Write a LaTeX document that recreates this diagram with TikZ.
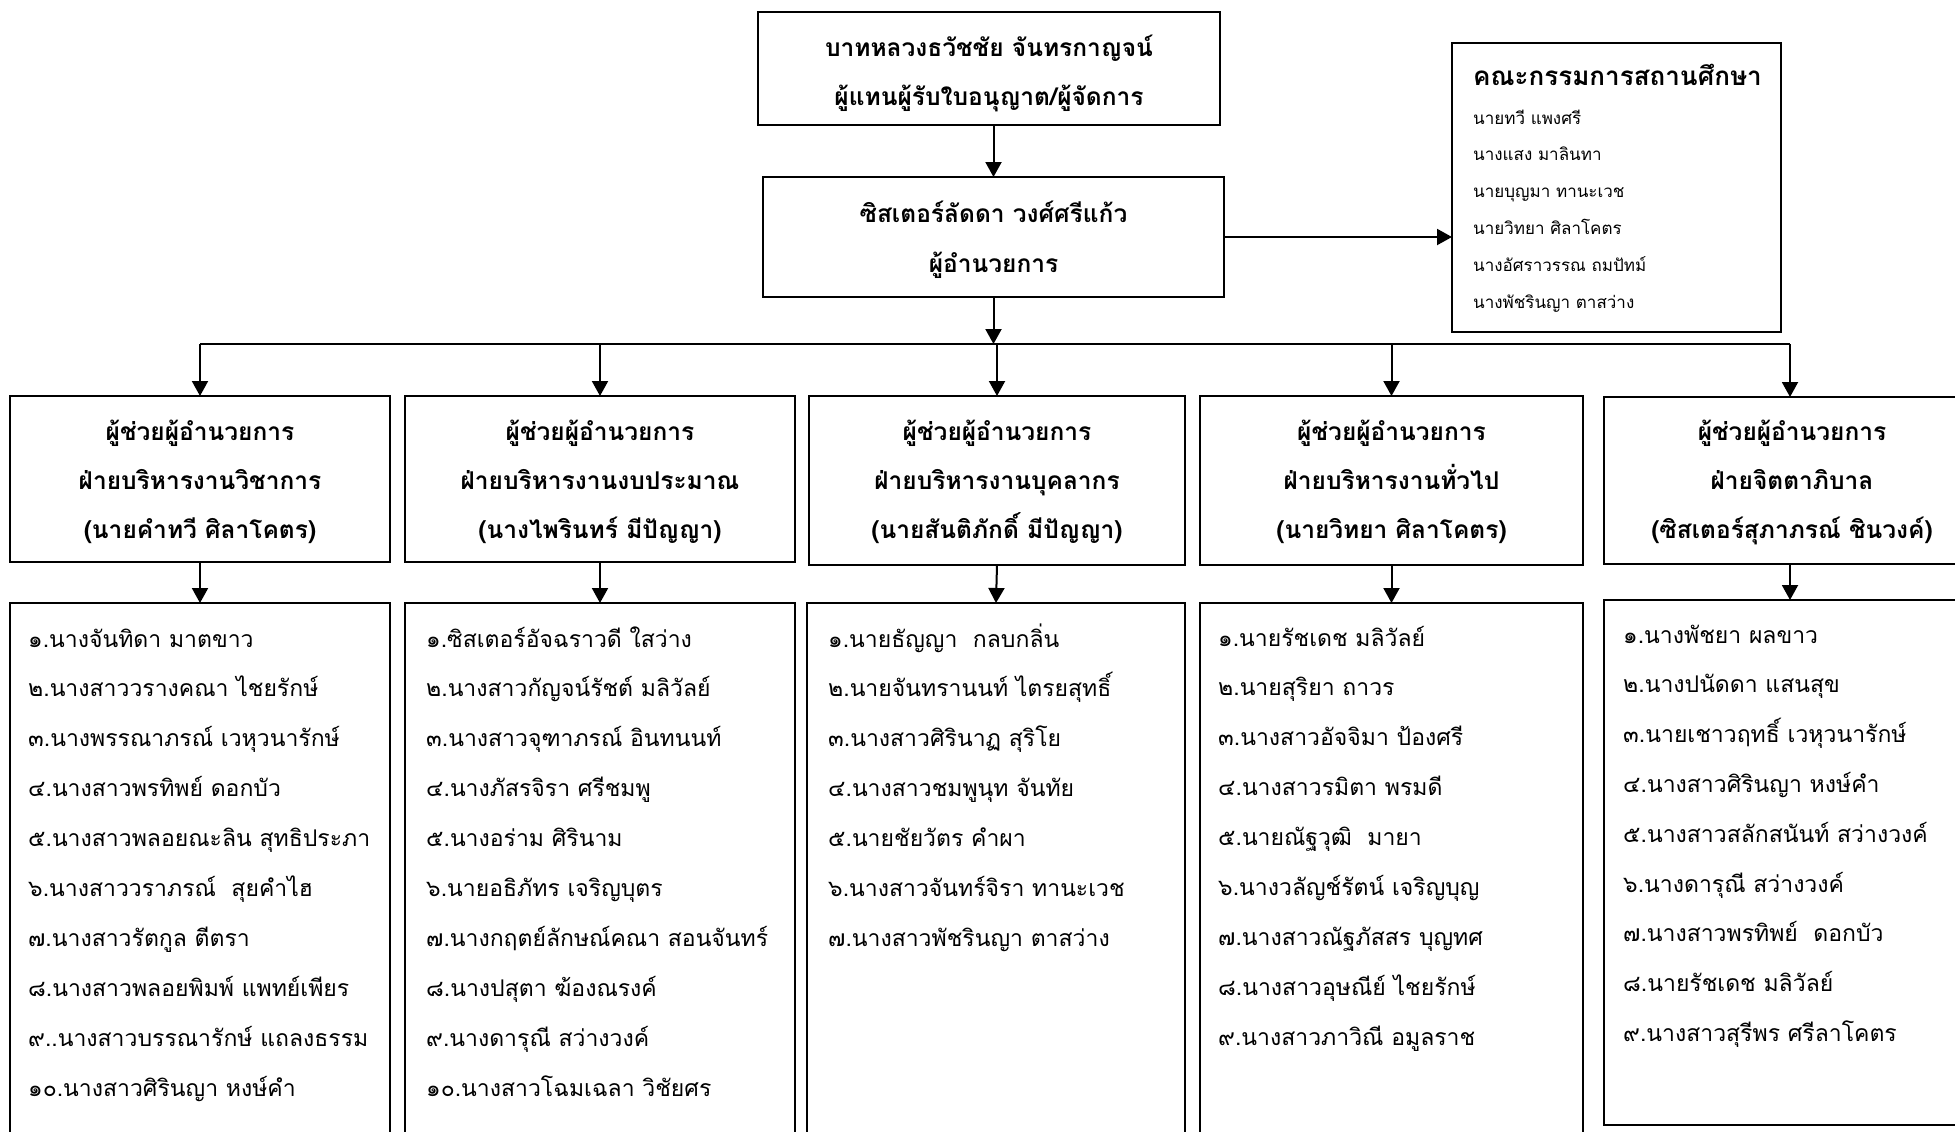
\documentclass[tikz,border=0pt]{standalone}
\usepackage{fontspec}
\setmainfont[Script=Thai]{Loma}
\usetikzlibrary{arrows.meta}
\begin{document}
\begin{tikzpicture}[x=1pt,y=-1pt,
  box/.style={draw,line width=2.2pt,inner sep=0pt,outer sep=0pt},
  arr/.style={line width=2pt,-{Triangle[width=16pt,length=15pt]}},
  conn/.style={line width=2pt},
  hd/.style={font=\bfseries\fontsize{24.5}{30}\selectfont,anchor=base,inner sep=0pt},
  item/.style={font=\fontsize{23}{28}\selectfont,anchor=base west,inner sep=0pt},
  cname/.style={font=\fontsize{17}{21}\selectfont,anchor=base west,inner sep=0pt},
  ctitle/.style={font=\bfseries\fontsize{26}{31}\selectfont,anchor=base west,inner sep=0pt}]
\useasboundingbox (0,0) rectangle (1955,1132);
\clip (0,0) rectangle (1955,1132);
\fill[white] (0,0) rectangle (1955,1132);

% boxes
\node[box,minimum width=462pt,minimum height=113pt] (top) at (989,68.5) {};
\node[box,minimum width=461pt,minimum height=120pt] (dir) at (993.5,237) {};
\node[box,minimum width=329pt,minimum height=289pt] (com) at (1616.5,187.5) {};
\node[box,minimum width=380pt,minimum height=166pt] (h1) at (200,479) {};
\node[box,minimum width=390pt,minimum height=166pt] (h2) at (600,479) {};
\node[box,minimum width=376pt,minimum height=169pt] (h3) at (997,480.5) {};
\node[box,minimum width=383pt,minimum height=169pt] (h4) at (1391.5,480.5) {};
\node[box,minimum width=372pt,minimum height=167pt] (h5) at (1790,480.5) {};
\node[box,minimum width=380pt,minimum height=542pt] (l1) at (200,874) {};
\node[box,minimum width=390pt,minimum height=542pt] (l2) at (600,874) {};
\node[box,minimum width=378pt,minimum height=542pt] (l3) at (996,874) {};
\node[box,minimum width=383pt,minimum height=542pt] (l4) at (1391.5,874) {};
\node[box,minimum width=372pt,minimum height=525pt] (l5) at (1790,862.5) {};

% top texts
\node[hd] (top1) at (989,57) {บาทหลวงธวัชชัย จันทรกาญจน์};
\node[hd] (top2) at (989,105) {ผู้แทนผู้รับใบอนุญาต/ผู้จัดการ};
\node[hd] (dir1) at (993.5,222) {ซิสเตอร์ลัดดา วงศ์ศรีแก้ว};
\node[hd] (dir2) at (993.5,272) {ผู้อำนวยการ};

% committee
\node[ctitle] (comt) at (1473,85) {คณะกรรมการสถานศึกษา};
\foreach \t [count=\i] in {นายทวี แพงศรี,นางแสง มาลินทา,นายบุญมา ทานะเวช,นายวิทยา ศิลาโคตร,นางอัศราวรรณ ถมปัทม์,นางพัชรินญา ตาสว่าง}
  \node[cname] (comn\i) at (1473,{124+36.9*(\i-1)}) {\t};

% header texts
\node[hd] (h1a) at (200,440.5) {ผู้ช่วยผู้อำนวยการ};
\node[hd] (h1b) at (200,489.5) {ฝ่ายบริหารงานวิชาการ};
\node[hd] (h1c) at (200,538) {(นายคำทวี ศิลาโคตร)};
\node[hd] (h2a) at (600,440.5) {ผู้ช่วยผู้อำนวยการ};
\node[hd] (h2b) at (600,489.5) {ฝ่ายบริหารงานงบประมาณ};
\node[hd] (h2c) at (600,538) {(นางไพรินทร์ มีปัญญา)};
\node[hd] (h3a) at (997,440.5) {ผู้ช่วยผู้อำนวยการ};
\node[hd] (h3b) at (997,489.5) {ฝ่ายบริหารงานบุคลากร};
\node[hd] (h3c) at (997,538) {(นายสันติภักดิ์ มีปัญญา)};
\node[hd] (h4a) at (1391.5,440.5) {ผู้ช่วยผู้อำนวยการ};
\node[hd] (h4b) at (1391.5,489.5) {ฝ่ายบริหารงานทั่วไป};
\node[hd] (h4c) at (1391.5,538) {(นายวิทยา ศิลาโคตร)};
\node[hd] (h5a) at (1792,440.5) {ผู้ช่วยผู้อำนวยการ};
\node[hd] (h5b) at (1792,489.5) {ฝ่ายจิตตาภิบาล};
\node[hd] (h5c) at (1792,538) {(ซิสเตอร์สุภาภรณ์ ชินวงค์)};

% lists
\foreach \t [count=\i] in {๑.นางจันทิดา มาตขาว,๒.นางสาววรางคณา ไชยรักษ์,๓.นางพรรณาภรณ์ เวหุวนารักษ์,๔.นางสาวพรทิพย์ ดอกบัว,๕.นางสาวพลอยณะลิน สุทธิประภา,๖.นางสาววราภรณ์~ สุยคำไฮ,๗.นางสาวรัตกูล ตีตรา,๘.นางสาวพลอยพิมพ์ แพทย์เพียร,๙..นางสาวบรรณารักษ์ แถลงธรรม,๑๐.นางสาวศิรินญา หงษ์คำ}
  \node[item] (la\i) at (28,{647+49.9*(\i-1)}) {\t};
\foreach \t [count=\i] in {๑.ซิสเตอร์อัจฉราวดี ใสว่าง,๒.นางสาวกัญจน์รัชต์ มลิวัลย์,๓.นางสาวจุฑาภรณ์ อินทนนท์,๔.นางภัสรจิรา ศรีชมพู,๕.นางอร่าม ศิรินาม,๖.นายอธิภัทร เจริญบุตร,๗.นางกฤตย์ลักษณ์คณา สอนจันทร์,๘.นางปสุตา ฆ้องณรงค์,๙.นางดารุณี สว่างวงค์,๑๐.นางสาวโฉมเฉลา วิชัยศร}
  \node[item] (lb\i) at (426,{647+49.9*(\i-1)}) {\t};
\foreach \t [count=\i] in {๑.นายธัญญา~ กลบกลิ่น,๒.นายจันทรานนท์ ไตรยสุทธิ์,๓.นางสาวศิรินาฏ สุริโย,๔.นางสาวชมพูนุท จันทัย,๕.นายชัยวัตร คำผา,๖.นางสาวจันทร์จิรา ทานะเวช,๗.นางสาวพัชรินญา ตาสว่าง}
  \node[item] (lc\i) at (828,{647+49.9*(\i-1)}) {\t};
\foreach \t [count=\i] in {๑.นายรัชเดช มลิวัลย์,๒.นายสุริยา ถาวร,๓.นางสาวอัจจิมา ป้องศรี,๔.นางสาวรมิตา พรมดี,๕.นายณัฐวุฒิ~ มายา,๖.นางวลัญช์รัตน์ เจริญบุญ,๗.นางสาวณัฐภัสสร บุญทศ,๘.นางสาวอุษณีย์ ไชยรักษ์,๙.นางสาวภาวิณี อมูลราช}
  \node[item] (ld\i) at (1218,{646+49.9*(\i-1)}) {\t};
\foreach \t [count=\i] in {๑.นางพัชยา ผลขาว,๒.นางปนัดดา แสนสุข,๓.นายเชาวฤทธิ์ เวหุวนารักษ์,๔.นางสาวศิรินญา หงษ์คำ,๕.นางสาวสลักสนันท์ สว่างวงค์,๖.นางดารุณี สว่างวงค์,๗.นางสาวพรทิพย์~ ดอกบัว,๘.นายรัชเดช มลิวัลย์,๙.นางสาวสุรีพร ศรีลาโคตร}
  \node[item] (le\i) at (1623,{643+49.8*(\i-1)}) {\t};

% connectors
\draw[arr] (dir.north |- top.south) -- (dir.north);
\draw[arr] (dir.east) -- (com.west |- dir.east);
\coordinate (bm) at (993.5,344);
\draw[arr] (dir.south) -- (bm);
\draw[conn] (h1.north |- bm) -- (h5.north |- bm);
\foreach \h in {h1,h2,h3,h4,h5}
  \draw[arr] (\h.north |- bm) -- (\h.north);
\draw[arr] (h1.south) -- (l1.north);
\draw[arr] (h2.south) -- (l2.north);
\draw[arr] (h3.south) -- (l3.north);
\draw[arr] (h4.south) -- (l4.north);
\draw[arr] (h5.south) -- (l5.north);
\end{tikzpicture}
\end{document}
